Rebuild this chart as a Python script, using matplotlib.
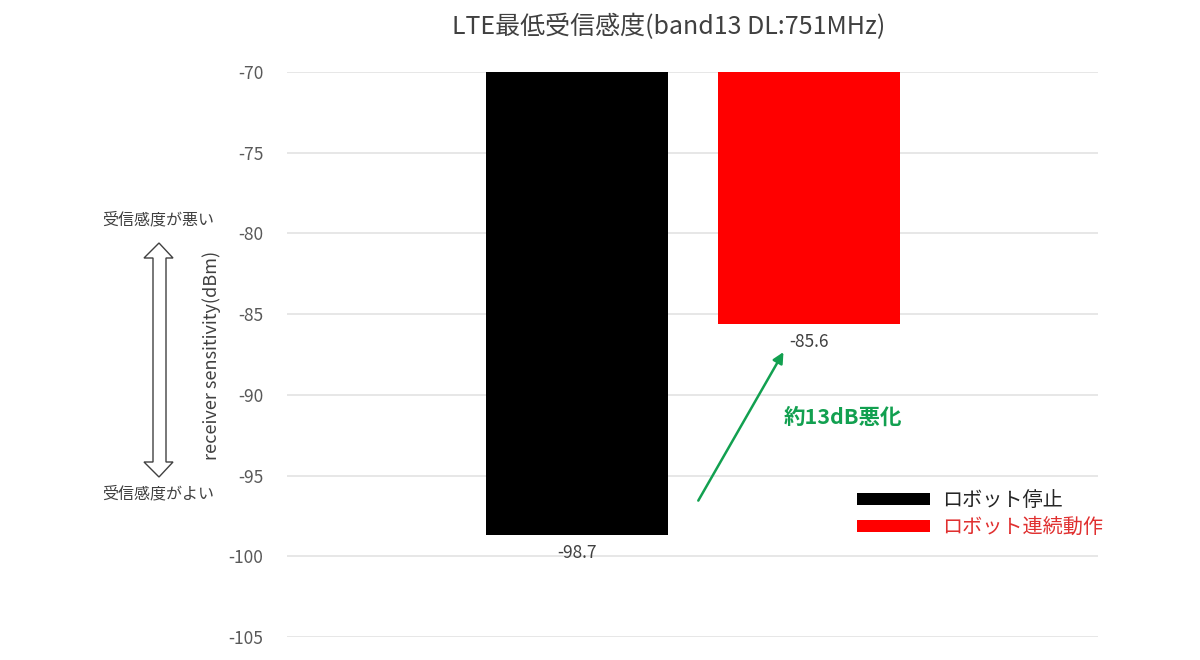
import matplotlib
matplotlib.use("Agg")
import matplotlib.pyplot as plt
from matplotlib.patches import Polygon, Patch

plt.rcParams['font.family'] = ['Noto Sans CJK JP', 'DejaVu Sans']

# data
categories = ['ロボット停止', 'ロボット連続動作']
values = [-98.7, -85.6]
bar_colors = ['#000000', '#ff0000']
base = -70
yticks = [-70, -75, -80, -85, -90, -95, -100, -105]

W, H = 1200, 660
fig = plt.figure(figsize=(12, 6.6), dpi=100)
ax = fig.add_axes([287 / W, 1 - 637 / H, (1098 - 287) / W, (637 - 72) / H])

x = list(range(len(categories)))
heights = [v - base for v in values]
bars = ax.bar(x, heights, bottom=base, width=0.784, color=bar_colors, zorder=3)

for xi, v in zip(x, values):
    ax.text(xi, v - 0.55, f'{v}', ha='center', va='top', fontsize=12.5, color='#404040')

ax.set_ylim(-105, -70)
ax.set_xlim(-1.25, 2.246)
ax.set_yticks(yticks)
ax.set_yticklabels([str(t) for t in yticks])
ax.tick_params(axis='y', length=0, pad=17, labelsize=12.5, labelcolor='#595959')
ax.set_xticks([])
ax.grid(axis='y', color='#e3e3e3', linewidth=1.2, zorder=0)
for s in ax.spines.values():
    s.set_visible(False)

# title
fig.text(669 / W, 1 - 27 / H, 'LTE最低受信感度(band13 DL:751MHz)',
         ha='center', va='center', fontsize=18, color='#404040')

# y label
fig.text(212 / W, 1 - 355 / H, 'receiver sensitivity(dBm)', rotation=90,
         ha='center', va='center', fontsize=13, color='#404040')

# worse / better annotation with hollow double arrow
fig.text(158 / W, 1 - 220 / H, '受信感度が悪い', ha='center', va='center',
         fontsize=11.5, color='#404040')
fig.text(158 / W, 1 - 494 / H, '受信感度がよい', ha='center', va='center',
         fontsize=11.5, color='#404040')
pts = [(159, 243), (173, 258), (166, 258), (166, 462), (173, 462), (159, 477),
       (144, 462), (153, 462), (153, 258), (144, 258)]
arrow = Polygon([(px / W, 1 - py / H) for px, py in pts], closed=True,
                facecolor='white', edgecolor='#404040', linewidth=1.0,
                transform=fig.transFigure)
fig.add_artist(arrow)

# green arrow and note
green = '#12a050'
ax.annotate('', xy=(0.896, -87.2), xytext=(0.517, -96.7),
            arrowprops=dict(arrowstyle='-|>', color=green, lw=1.8,
                            mutation_scale=16))
ax.text(0.89, -91.4, '約13dB悪化', ha='left', va='center', fontsize=15.5,
        fontweight='bold', color=green)

# legend
handles = [Patch(facecolor=c) for c in bar_colors]
leg = fig.legend(handles, categories, loc='upper left',
                 bbox_to_anchor=(849 / W, 1 - 482 / H), frameon=False,
                 fontsize=14.5, handlelength=3.6, handleheight=0.6,
                 handletextpad=0.6, labelspacing=0.3, borderaxespad=0)
leg.get_texts()[0].set_color('#262626')
leg.get_texts()[1].set_color('#e03030')

fig.savefig('out.png', dpi=100)
